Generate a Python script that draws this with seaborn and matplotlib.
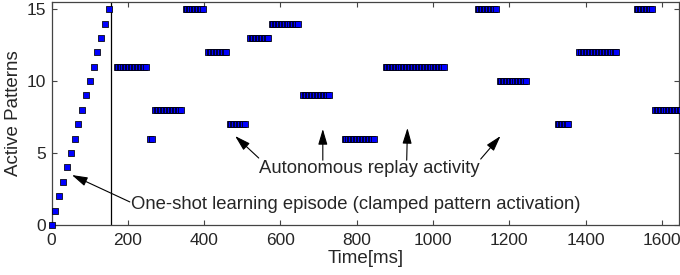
import numpy as np
import pandas as pd
import matplotlib
matplotlib.use("Agg")
import matplotlib.pyplot as plt
import seaborn as sns

# one-shot learning episode: one pattern clamped every 10 ms
learn_t = [0, 10, 20, 30, 40, 50, 60, 70, 80, 90, 100, 110, 120, 130, 140, 150]
learn_pattern = [0, 1, 2, 3, 4, 5, 6, 7, 8, 9, 10, 11, 12, 13, 14, 15]
learn_end = 155

# autonomous replay: (start ms, end ms, pattern)
seg_start = [171, 258, 271, 352, 410, 467, 520, 577, 659, 769, 876, 1117, 1175, 1327, 1384, 1534, 1583]
seg_end = [250, 262, 339, 399, 459, 509, 569, 648, 729, 847, 1028, 1166, 1245, 1355, 1483, 1575, 1660]
seg_pattern = [11, 6, 8, 15, 12, 7, 13, 14, 9, 6, 11, 15, 10, 7, 12, 15, 8]
sample_ms = 4

sns.set_style("ticks")
plt.rcParams["font.family"] = ["Liberation Sans", "DejaVu Sans"]

learn_df = pd.DataFrame({"t": learn_t, "pattern": learn_pattern})

rows = []
for s, e, p in zip(seg_start, seg_end, seg_pattern):
    for t in np.arange(s, e + 1, sample_ms):
        rows.append((t, p))
replay_df = pd.DataFrame(rows, columns=["t", "pattern"])

fig = plt.figure(figsize=(6.8, 2.75), dpi=100)
ax = fig.add_axes([0.076, 0.182, 0.9225, 0.811])

sns.scatterplot(data=replay_df, x="t", y="pattern", marker="s", s=24,
                color="#0000ff", edgecolor="black", linewidth=0.55, ax=ax, zorder=3)
sns.scatterplot(data=learn_df, x="t", y="pattern", marker="s", s=24,
                color="#0000ff", edgecolor="black", linewidth=0.55, ax=ax,
                zorder=3, clip_on=False)
ax.axvline(learn_end, color="black", linewidth=0.9, zorder=2)

ax.set_xlim(0, 1645)
ax.set_ylim(0, 15.5)
ax.set_xticks([0, 200, 400, 600, 800, 1000, 1200, 1400, 1600])
ax.set_yticks([0, 5, 10, 15])
ax.tick_params(direction="in", length=3.5, width=0.8, color="#444444",
               top=True, right=True, labelsize=12.5)
ax.tick_params(axis="x", pad=6)
ax.tick_params(axis="y", pad=4)
for sp in ax.spines.values():
    sp.set_color("#444444")
    sp.set_linewidth(0.9)
ax.set_xlabel("Time[ms]", fontsize=13.5, labelpad=1)
ax.set_ylabel("Active Patterns", fontsize=13.5, labelpad=3)

arrow = dict(arrowstyle="-|>,head_length=0.95,head_width=0.28", color="black",
             lw=0.8, shrinkA=0, shrinkB=0, mutation_scale=10)

ax.annotate("", xy=(53, 3.47), xytext=(205, 1.6), arrowprops=arrow)
ax.text(208, 1.4, "One-shot learning episode (clamped pattern activation)",
        fontsize=13.3, ha="left", va="center")

ax.text(833, 3.9, "Autonomous replay activity", fontsize=13.3, ha="center", va="center")
for tip, tail in [((481, 6.18), (543, 4.65)), ((711, 6.67), (711, 4.5)),
                  ((933, 6.74), (931, 4.5)), ((1177, 6.18), (1125, 4.58))]:
    ax.annotate("", xy=tip, xytext=tail, arrowprops=arrow)

fig.savefig("out.png", dpi=100)
